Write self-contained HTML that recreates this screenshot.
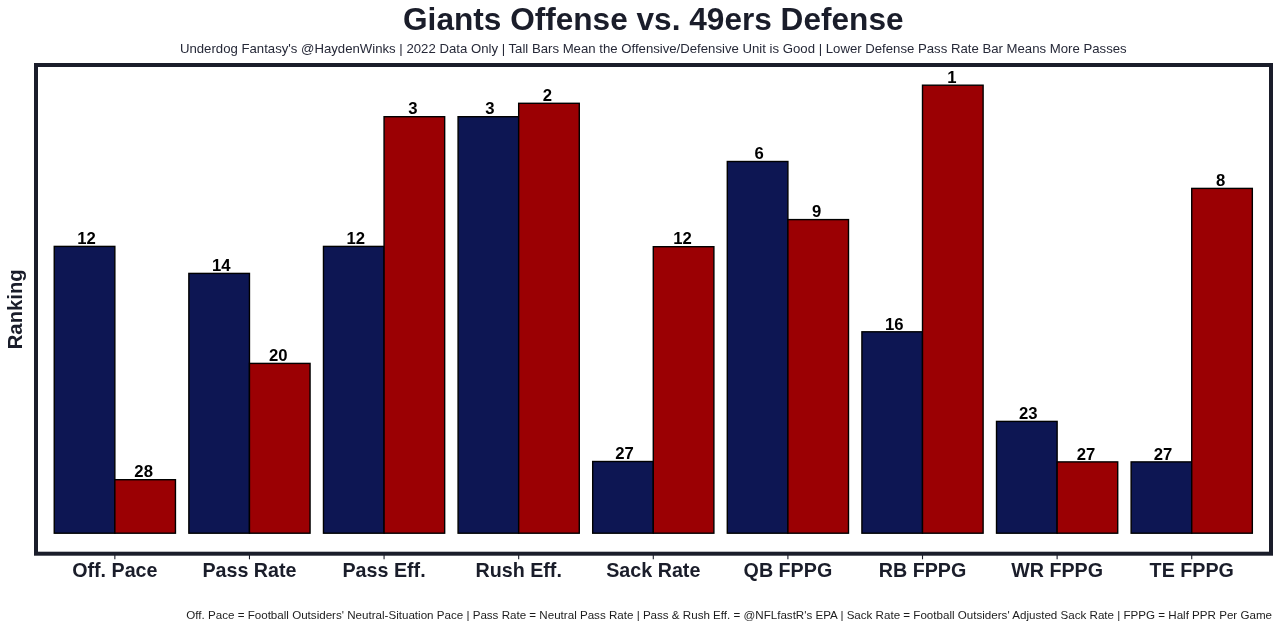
<!DOCTYPE html>
<html lang="en"><head><meta charset="utf-8"><title>Giants Offense vs. 49ers Defense</title>
<style>
html,body{margin:0;padding:0;background:#fff;}
body{width:1280px;height:629px;overflow:hidden;}
svg{display:block;font-family:"Liberation Sans",Arial,Helvetica,sans-serif;}
.t{font-weight:bold;font-size:31.6px;fill:#1a1d2a;text-anchor:middle}
.s{font-size:13.18px;fill:#262938;text-anchor:middle}
.f{font-size:11.6px;fill:#1c1c1c;text-anchor:end}
.x{font-weight:bold;font-size:19.7px;fill:#1a1d2a;text-anchor:middle}
.y{font-weight:bold;font-size:20.3px;fill:#1a1d2a;text-anchor:middle}
.n{font-weight:bold;font-size:16.7px;fill:#000;text-anchor:middle}
</style></head><body>
<svg width="1280" height="629" viewBox="0 0 1280 629">
<rect x="0" y="0" width="1280" height="629" fill="#ffffff"/>
<text class="t" x="653.3" y="29.6">Giants Offense vs. 49ers Defense</text>
<text class="s" x="653.3" y="52.9">Underdog Fantasy's @HaydenWinks | 2022 Data Only | Tall Bars Mean the Offensive/Defensive Unit is Good | Lower Defense Pass Rate Bar Means More Passes</text>
<rect x="54.25" y="246.40" width="60.60" height="286.80" fill="#0d1653" stroke="#000" stroke-width="1.40"/>
<text class="n" x="86.55" y="244.10">12</text>
<rect x="114.85" y="479.70" width="60.60" height="53.50" fill="#9b0003" stroke="#000" stroke-width="1.40"/>
<text class="n" x="143.65" y="477.40">28</text>
<rect x="188.86" y="273.40" width="60.60" height="259.80" fill="#0d1653" stroke="#000" stroke-width="1.40"/>
<text class="n" x="221.16" y="271.10">14</text>
<rect x="249.46" y="363.40" width="60.60" height="169.80" fill="#9b0003" stroke="#000" stroke-width="1.40"/>
<text class="n" x="278.26" y="361.10">20</text>
<rect x="323.47" y="246.40" width="60.60" height="286.80" fill="#0d1653" stroke="#000" stroke-width="1.40"/>
<text class="n" x="355.77" y="244.10">12</text>
<rect x="384.07" y="116.70" width="60.60" height="416.50" fill="#9b0003" stroke="#000" stroke-width="1.40"/>
<text class="n" x="412.87" y="114.40">3</text>
<rect x="458.08" y="116.70" width="60.60" height="416.50" fill="#0d1653" stroke="#000" stroke-width="1.40"/>
<text class="n" x="489.88" y="114.40">3</text>
<rect x="518.68" y="103.30" width="60.60" height="429.90" fill="#9b0003" stroke="#000" stroke-width="1.40"/>
<text class="n" x="547.48" y="101.00">2</text>
<rect x="592.69" y="461.50" width="60.60" height="71.70" fill="#0d1653" stroke="#000" stroke-width="1.40"/>
<text class="n" x="624.49" y="459.20">27</text>
<rect x="653.29" y="246.70" width="60.60" height="286.50" fill="#9b0003" stroke="#000" stroke-width="1.40"/>
<text class="n" x="682.59" y="244.40">12</text>
<rect x="727.30" y="161.50" width="60.60" height="371.70" fill="#0d1653" stroke="#000" stroke-width="1.40"/>
<text class="n" x="759.10" y="159.20">6</text>
<rect x="787.90" y="219.60" width="60.60" height="313.60" fill="#9b0003" stroke="#000" stroke-width="1.40"/>
<text class="n" x="816.70" y="217.30">9</text>
<rect x="861.91" y="331.80" width="60.60" height="201.40" fill="#0d1653" stroke="#000" stroke-width="1.40"/>
<text class="n" x="894.21" y="329.50">16</text>
<rect x="922.51" y="85.20" width="60.60" height="448.00" fill="#9b0003" stroke="#000" stroke-width="1.40"/>
<text class="n" x="951.81" y="82.90">1</text>
<rect x="996.52" y="421.40" width="60.60" height="111.80" fill="#0d1653" stroke="#000" stroke-width="1.40"/>
<text class="n" x="1028.32" y="419.10">23</text>
<rect x="1057.12" y="461.90" width="60.60" height="71.30" fill="#9b0003" stroke="#000" stroke-width="1.40"/>
<text class="n" x="1085.92" y="459.60">27</text>
<rect x="1131.13" y="461.90" width="60.60" height="71.30" fill="#0d1653" stroke="#000" stroke-width="1.40"/>
<text class="n" x="1162.93" y="459.60">27</text>
<rect x="1191.73" y="188.40" width="60.60" height="344.80" fill="#9b0003" stroke="#000" stroke-width="1.40"/>
<text class="n" x="1220.53" y="186.10">8</text>
<rect x="36" y="65" width="1235" height="488.7" fill="none" stroke="#1a1d2a" stroke-width="4"/>
<line x1="114.85" y1="555" x2="114.85" y2="559.3" stroke="#1a1d2a" stroke-width="1.1"/>
<text class="x" x="114.85" y="577.0">Off. Pace</text>
<line x1="249.46" y1="555" x2="249.46" y2="559.3" stroke="#1a1d2a" stroke-width="1.1"/>
<text class="x" x="249.46" y="577.0">Pass Rate</text>
<line x1="384.07" y1="555" x2="384.07" y2="559.3" stroke="#1a1d2a" stroke-width="1.1"/>
<text class="x" x="384.07" y="577.0">Pass Eff.</text>
<line x1="518.68" y1="555" x2="518.68" y2="559.3" stroke="#1a1d2a" stroke-width="1.1"/>
<text class="x" x="518.68" y="577.0">Rush Eff.</text>
<line x1="653.29" y1="555" x2="653.29" y2="559.3" stroke="#1a1d2a" stroke-width="1.1"/>
<text class="x" x="653.29" y="577.0">Sack Rate</text>
<line x1="787.90" y1="555" x2="787.90" y2="559.3" stroke="#1a1d2a" stroke-width="1.1"/>
<text class="x" x="787.90" y="577.0">QB FPPG</text>
<line x1="922.51" y1="555" x2="922.51" y2="559.3" stroke="#1a1d2a" stroke-width="1.1"/>
<text class="x" x="922.51" y="577.0">RB FPPG</text>
<line x1="1057.12" y1="555" x2="1057.12" y2="559.3" stroke="#1a1d2a" stroke-width="1.1"/>
<text class="x" x="1057.12" y="577.0">WR FPPG</text>
<line x1="1191.73" y1="555" x2="1191.73" y2="559.3" stroke="#1a1d2a" stroke-width="1.1"/>
<text class="x" x="1191.73" y="577.0">TE FPPG</text>
<text class="y" transform="translate(21.5 309.3) rotate(-90)" x="0" y="0">Ranking</text>
<text class="f" x="1272.0" y="619">Off. Pace = Football Outsiders' Neutral-Situation Pace | Pass Rate = Neutral Pass Rate | Pass &amp; Rush Eff. = @NFLfastR's EPA | Sack Rate = Football Outsiders' Adjusted Sack Rate | FPPG = Half PPR Per Game</text>
</svg></body></html>
